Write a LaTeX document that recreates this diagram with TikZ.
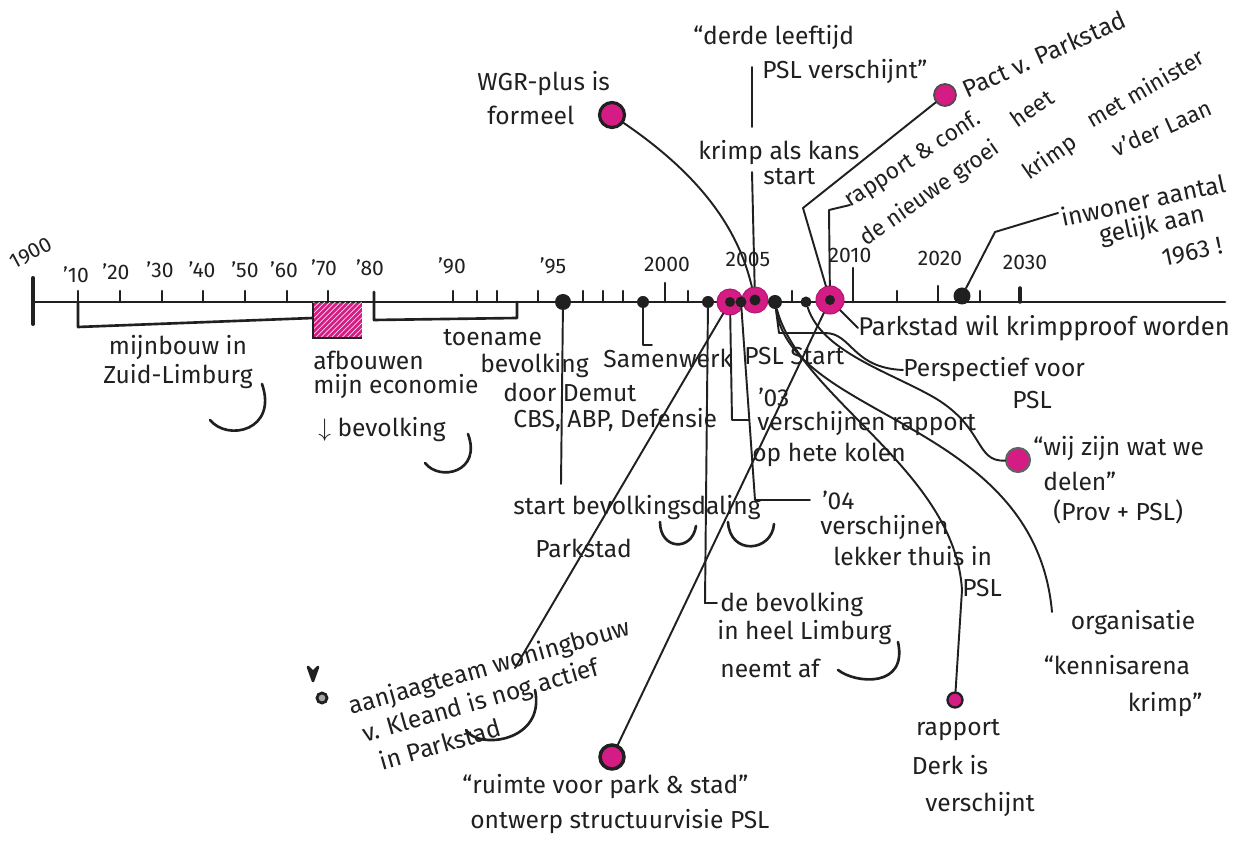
\documentclass[tikz,border=0pt]{standalone}
\usepackage{fontspec}
\setmainfont{Fira Sans}
\usetikzlibrary{patterns}
\definecolor{mk}{RGB}{212,28,132}
\definecolor{ink}{RGB}{32,32,32}
\newcommand\hand{\fontsize{14}{16}\selectfont}
\newcommand\handsm{\fontsize{12}{14}\selectfont}
\newcommand\handxs{\fontsize{13}{15}\selectfont}
\begin{document}
\begin{tikzpicture}[x=0.02cm,y=-0.02cm,
  pen/.style={draw=ink,line width=1.5pt,line cap=round,line join=round},
  wire/.style={draw=ink,line width=1.1pt,line cap=round,line join=round},
  txt/.style={font=\hand,text=ink,inner sep=0pt,align=center},
  slant/.style={font=\handxs,text=ink,inner sep=0pt,align=center},
  yr/.style={font=\handsm,text=ink,inner sep=0pt},
  bdot/.style={circle,fill=ink,inner sep=0pt,minimum size=#1},
  pring/.style={circle,fill=mk,draw=mk!85!black,line width=0.6pt,inner sep=0pt,minimum size=#1},
  pball/.style={circle,fill=mk,draw=ink,line width=1.4pt,inner sep=0pt,minimum size=#1}]

\fill[white] (0,0) rectangle (1249,864);
\useasboundingbox (0,0) rectangle (1249,864);

% ---- time axis ----
\draw[pen] (33,302) -- (1225,302);
\draw[pen,line width=2.3pt] (33,278) -- (33,324);
\foreach \x in {78,120,162,203,245,287,328,453,477,497,538,583,603,623,688,792,897,980}
  \draw[pen] (\x,291) -- (\x,302);
\draw[pen] (665,283) -- (665,302);
\draw[pen] (853,268) -- (853,302);
\draw[pen] (938,286) -- (938,302);
\draw[pen,line width=2pt] (1020,288) -- (1020,302);

% year labels
\node[yr,rotate=28] (y1900) at (31,253) {1900};
\node[yr] (y10) at (76,275) {'10};
\node[yr] (y20) at (116,272) {'20};
\node[yr] (y30) at (160,270) {'30};
\node[yr] (y40) at (202,270) {'40};
\node[yr] (y50) at (245,270) {'50};
\node[yr] (y60) at (284,270) {'60};
\node[yr] (y70) at (324,268) {'70};
\node[yr] (y80) at (370,268) {'80};
\node[yr] (y90) at (452,266) {'90};
\node[yr] (y95) at (553,266) {'95};
\node[yr] (y2000) at (667,264) {2000};
\node[yr] (y2005) at (748,259) {2005};
\node[yr] (y2010) at (850,255) {2010};
\node[yr] (y2020) at (940,258) {2020};
\node[yr] (y2030) at (1025,262) {2030};

% brackets under the axis
\draw[pen] (78,302) -- (78,327) -- (313,318);
\draw[pen] (374,292) -- (374,320) -- (517,318) -- (517,302);

% hatched block for the closing of the mines
\fill[mk] (313,303) rectangle (362,338);
\fill[pattern=north east lines,pattern color=white!85!mk] (313,303) rectangle (362,338);
\draw[ink,line width=0.9pt] (313,303) -- (313,338) -- (362,338);

% ---- marks on the axis ----
\node[pring=0.52cm] (p03) at (730,302) {};
\node[pring=0.52cm] (p05) at (755,300) {};
\node[pring=0.56cm] (p09) at (830,300) {};
\node[bdot=0.32cm] (d95) at (563,302) {};
\node[bdot=0.24cm] (d99) at (643,302) {};
\node[bdot=0.24cm] (d02) at (708,302) {};
\node[bdot=0.2cm] (i03) at (730,302) {};
\node[bdot=0.22cm] (d04) at (741,302) {};
\node[bdot=0.22cm] (i05) at (755,300) {};
\node[bdot=0.28cm] (d06) at (775,302) {};
\node[bdot=0.22cm] (d08) at (806,302) {};
\node[bdot=0.2cm] (i09) at (830,300) {};
\node[bdot=0.34cm] (d23) at (962,296) {};

% ---- texts below the axis ----
\node[txt] (mijn) at (178,362) {mijnbouw in\\Zuid-Limburg};
\draw[pen] (262,384) .. controls (278,430) and (228,442) .. (210,420);
\node[txt,anchor=west] (afb1) at (313,360) {afbouwen};
\node[txt,anchor=west] (afb2) at (313,387) {mijn economie};
\node[txt,anchor=west] (afb3) at (318,430) {$\downarrow$\ bevolking};
\draw[pen] (468,434) .. controls (482,472) and (440,482) .. (425,463);
\node[txt,anchor=west] (toe1) at (443,338) {toename};
\node[txt,anchor=west] (toe2) at (480,366) {bevolking};
\node[txt,anchor=west] (toe3) at (503,392) {door Demut};
\node[txt,anchor=west] (toe4) at (513,420) {CBS, ABP, Defensie};

\node[txt,anchor=west] (daling1) at (513,508) {start bevolkingsdaling};
\node[txt,anchor=west] (daling2) at (535,548) {Parkstad};
\draw[pen] (660,522) .. controls (660,550) and (692,552) .. (696,526);
\draw[pen] (728,522) .. controls (730,556) and (772,552) .. (774,524);
\coordinate (e95) at (561,484);
\draw[wire] (d95) -- (e95);

\node[txt,anchor=west] (samen) at (603,358) {Samenwerk};
\coordinate (b99) at (643,345);
\coordinate (e99) at (652,345);
\draw[wire] (d99) -- (b99) -- (e99);

\node[txt,anchor=west] (pslstart) at (744,356) {PSL Start};

\node[txt,anchor=west] (r03a) at (758,397) {'03};
\node[txt,anchor=west] (r03b) at (757,424) {verschijnen rapport};
\node[txt,anchor=west] (r03c) at (752,455) {op hete kolen};
\coordinate (b03) at (732,420);
\coordinate (e03) at (749,420);
\draw[wire] (p03) -- (b03) -- (e03);

\node[txt,anchor=west] (r04a) at (822,500) {'04};
\node[txt,anchor=west] (r04b) at (820,528) {verschijnen};
\node[txt,anchor=west] (r04c) at (833,556) {lekker thuis in};
\node[txt] (r04d) at (982,588) {PSL};
\coordinate (b04) at (755,500);
\coordinate (e04) at (810,500);
\draw[wire] (d04) -- (b04) -- (e04);

\node[txt,anchor=west] (heel1) at (720,605) {de bevolking};
\node[txt,anchor=west] (heel2) at (717,633) {in heel Limburg};
\node[txt,anchor=west] (heel3) at (720,668) {neemt af};
\draw[pen] (898,642) .. controls (908,688) and (856,684) .. (838,670);
\coordinate (b02) at (705,603);
\coordinate (e02) at (717,603);
\draw[wire] (d02) -- (b02) -- (e02);

% aanjaagteam, written slanting upwards
\node[txt,rotate=16] (aan1) at (490,668) {aanjaagteam woningbouw};
\node[txt,rotate=16] (aan2) at (481,702) {v. Kleand is nog actief};
\node[txt,rotate=16] (aan3) at (440,744) {in Parkstad};
\draw[pen] (535,690) .. controls (546,742) and (478,750) .. (466,730);
\node[circle,draw=ink,line width=1.6pt,fill=ink!40,inner sep=0pt,minimum size=0.2cm] (mark) at (322,698) {};
\coordinate (va) at (308,667);
\coordinate (vb) at (313,681);
\coordinate (vc) at (318,667);
\coordinate (vd) at (313,672);
\filldraw[pen,fill=ink] (va) -- (vd) -- (vc) -- (vb) -- cycle;
\coordinate (e03b) at (515,668);
\draw[wire] (p03) -- (e03b);

% ruimte voor park & stad
\node[pball=0.48cm,line width=2pt] (ruimtedot) at (612,757) {};
\node[txt,anchor=west] (ruimte1) at (462,787) {``ruimte voor park \& stad''};
\node[txt,anchor=west] (ruimte2) at (470,822) {ontwerp structuurvisie PSL};
\draw[wire] (p09) -- (ruimtedot);

% right hand side, below the axis
\node[txt,anchor=west,font=\fontsize{14.6}{17}\selectfont] (kp) at (858,328) {Parkstad wil krimpproof worden};
\draw[wire] (p09) -- (kp.west);

\node[txt,anchor=west] (persp1) at (903,370) {Perspectief voor};
\node[txt] (persp2) at (1032,400) {PSL};
\coordinate (bp1) at (779,333);
\coordinate (bp2) at (825,333);
\draw[wire] (d06) -- (bp1) -- (bp2) .. controls (852,333) and (852,368) .. (persp1.west);

\node[pball=0.48cm,draw=ink!70,line width=1.2pt] (wijdot) at (1018,460) {};
\node[txt,anchor=west] (wij1) at (1033,449) {``wij zijn wat we};
\node[txt,anchor=west] (wij2) at (1043,481) {delen''};
\node[txt,anchor=west] (wij3) at (1053,512) {(Prov + PSL)};
\coordinate (bw) at (935,398);
\draw[wire] (d08) .. controls (822,352) and (890,372) .. (bw) .. controls (985,428) and (975,462) .. (wijdot);

\node[txt] (org1) at (1133,623) {organisatie};
\node[txt] (org2) at (1117,665) {``kennisarena};
\node[txt] (org3) at (1165,705) {krimp''};
\coordinate (eorg) at (1052,612);
\draw[wire] (d06) .. controls (792,420) and (1035,420) .. (eorg);

\node[pball=0.3cm,line width=1.3pt] (derkdot) at (955,700) {};
\node[txt] (derk1) at (958,730) {rapport};
\node[txt] (derk2) at (950,765) {Derk is};
\node[txt] (derk3) at (980,805) {verschijnt};
\coordinate (bd) at (962,590);
\draw[wire] (d06) .. controls (800,398) and (955,470) .. (bd) -- (derkdot);

% ---- texts above the axis ----
\node[pball=0.5cm,line width=1.8pt] (wgrdot) at (612,115) {};
\node[txt,anchor=west] (wgr1) at (477,84) {WGR-plus is};
\node[txt,anchor=west] (wgr2) at (487,115) {formeel};
\draw[wire] (wgrdot) .. controls (700,175) and (738,228) .. (p05);

\node[txt,anchor=west] (derde1) at (693,38) {``derde leeftijd};
\node[txt,anchor=west] (derde2) at (762,72) {PSL verschijnt''};
\coordinate (dl1) at (752,67);
\coordinate (dl2) at (752,127);
\draw[wire] (dl1) -- (dl2);

\node[txt,anchor=west] (kans1) at (698,153) {krimp als kans};
\node[txt,anchor=west] (kans2) at (763,177) {start};
\coordinate (ek) at (752,172);
\draw[wire] (p05) -- (ek);

\node[pring=0.44cm,draw=ink!80,line width=1pt] (pactdot) at (945,95) {};
\node[txt,rotate=24] (pact) at (1044,54) {Pact v. Parkstad};
\coordinate (bpact) at (803,208);
\draw[wire] (pactdot) -- (bpact) -- (p09);

\node[slant,rotate=33] (rap1) at (913,160) {rapport \& conf.};
\node[slant,rotate=35] (rap2) at (930,194) {de nieuwe groei};
\node[slant,rotate=35] (rap3) at (1032,108) {heet};
\node[slant,rotate=35] (rap4) at (1050,158) {krimp};
\node[slant,rotate=30] (rap5) at (1145,88) {met minister};
\node[slant,rotate=24] (rap6) at (1162,128) {v'der Laan};
\coordinate (brap) at (829,210);
\coordinate (erap) at (850,205);
\draw[wire] (p09) -- (brap) -- (erap);

\node[txt,rotate=12] (inw1) at (1143,200) {inwoner aantal};
\node[txt,rotate=12] (inw2) at (1152,226) {gelijk aan};
\node[txt,rotate=12] (inw3) at (1192,252) {1963 !};
\coordinate (binw) at (995,232);
\coordinate (einw) at (1058,213);
\draw[wire] (einw) -- (binw) -- (d23);
\end{tikzpicture}
\end{document}
